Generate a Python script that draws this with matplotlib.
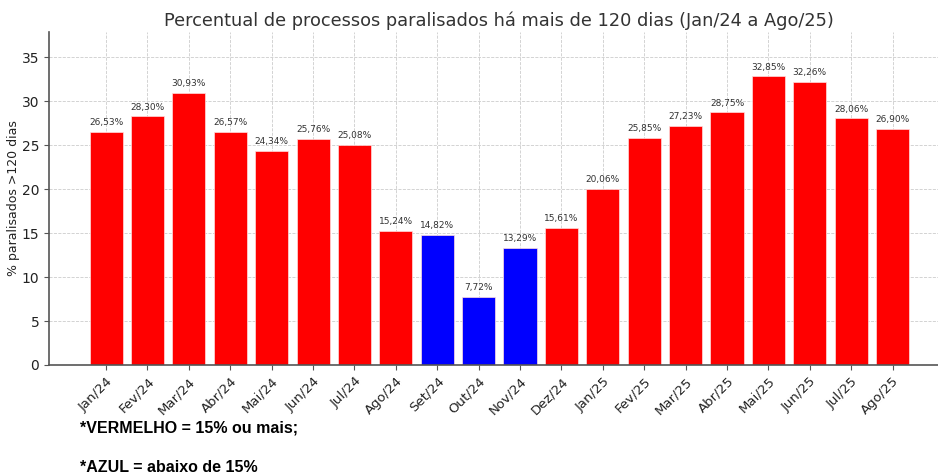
"""
Percentual de processos paralisados há mais de 120 dias
"""

import matplotlib
matplotlib.use('Agg')
import matplotlib.pyplot as plt
import numpy as np

plt.rcParams['font.family'] = ['DejaVu Sans']

meses = ['Jan/24', 'Fev/24', 'Mar/24', 'Abr/24', 'Mai/24', 'Jun/24', 'Jul/24',
         'Ago/24', 'Set/24', 'Out/24', 'Nov/24', 'Dez/24', 'Jan/25', 'Fev/25',
         'Mar/25', 'Abr/25', 'Mai/25', 'Jun/25', 'Jul/25', 'Ago/25']
percentuais = [26.53, 28.30, 30.93, 26.57, 24.34, 25.76, 25.08, 15.24, 14.82, 7.72,
               13.29, 15.61, 20.06, 25.85, 27.23, 28.75, 32.85, 32.26, 28.06, 26.90]
limite = 15

fig = plt.figure(figsize=(9.38, 4.75), dpi=100)
ax = fig.add_axes([0.0522, 0.2316, 0.97, 0.701])

x = np.arange(len(meses))
cores = ['#FF0000' if v >= limite else '#0000FF' for v in percentuais]
ax.bar(x, percentuais, width=0.8, color=cores, edgecolor='#ffdddd', linewidth=0.5, zorder=2)

# rótulos de valor
for xi, v in zip(x, percentuais):
    ax.text(xi, v + 0.55, f'{v:.2f}%'.replace('.', ','),
            ha='center', va='bottom', fontsize=6.5, color='#333333', zorder=3)

ax.set_xlim(-1.38, 20.6)
ax.set_ylim(0, 37.9)
ax.set_yticks(range(0, 36, 5))
ax.set_xticks(x)
ax.set_xticklabels(meses, rotation=45, ha='right', rotation_mode='anchor', fontsize=9.5)
ax.tick_params(axis='y', labelsize=10, color='#555555', labelcolor='#222222')
ax.tick_params(axis='x', color='#555555', labelcolor='#222222')

ax.grid(True, linestyle='--', color='#cccccc', linewidth=0.6, zorder=0)
ax.set_axisbelow(True)
for s in ['top', 'right']:
    ax.spines[s].set_visible(False)
for s in ['left', 'bottom']:
    ax.spines[s].set_color('#555555')
    ax.spines[s].set_linewidth(1.2)

ax.set_ylabel('% paralisados >120 dias', fontsize=9, color='#222222', labelpad=1)
ax.set_title('Percentual de processos paralisados há mais de 120 dias (Jan/24 a Ago/25)',
             fontsize=12.8, color='#333333', x=0.4945, pad=4)

fig.text(0.085, 0.099, '*VERMELHO = 15% ou mais;', fontsize=11.5, fontweight='bold',
         family='Liberation Sans', va='center', ha='left')
fig.text(0.085, 0.015, '*AZUL = abaixo de 15%', fontsize=11.5, fontweight='bold',
         family='Liberation Sans', va='center', ha='left')

plt.savefig('out.png', dpi=100, facecolor='white')
plt.close()
